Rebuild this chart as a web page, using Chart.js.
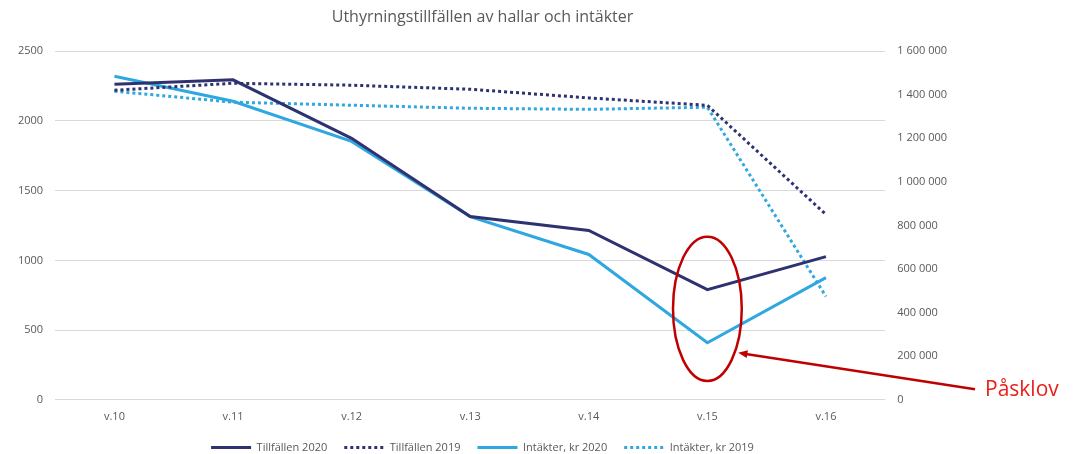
<!DOCTYPE html>
<html>
<head>
<meta charset="utf-8">
<script src="https://cdn.jsdelivr.net/npm/chart.js@4.4.1/dist/chart.umd.min.js"></script>
<style>
	html, body { margin: 0; padding: 0; background: #fff; }
	#wrap { width: 1087px; height: 454px; position: relative; }
</style>
</head>
<body>
<div id="wrap"><canvas id="hallar"></canvas></div>
<script>
const weeks = ['v.10', 'v.11', 'v.12', 'v.13', 'v.14', 'v.15', 'v.16'];
const tillfallen2020 = [2263, 2295, 1875, 1315, 1214, 790, 1027];
const tillfallen2019 = [2220, 2270, 2256, 2227, 2165, 2112, 1329];
const intakter2020 = [1485000, 1370000, 1186000, 841000, 667000, 262000, 561000];
const intakter2019 = [1416000, 1366000, 1352000, 1338000, 1333000, 1343000, 474000];
const leftTicks = [0, 500, 1000, 1500, 2000, 2500];
const rightTicks = [0, 200000, 400000, 600000, 800000, 1000000, 1200000, 1400000, 1600000];

const navy = '#2e3270';
const blue = '#2fa7e0';
const grey = '#595959';
const red = '#c00000';

// Påsklov ring + arrow, placed from the scales
const paskPlugin = {
	id: 'pasklov',
	afterDatasetsDraw(chart) {
		const ctx = chart.ctx;
		const x = chart.scales.x;
		const y = chart.scales.y;
		const step = x.getPixelForValue(1) - x.getPixelForValue(0);
		const cx = x.getPixelForValue(5);
		const top = y.getPixelForValue(1170);
		const bot = y.getPixelForValue(135);
		ctx.save();
		ctx.strokeStyle = red;
		ctx.lineWidth = 2.5;
		ctx.beginPath();
		ctx.ellipse(cx, (top + bot) / 2, step * 0.29, (bot - top) / 2, 0, 0, Math.PI * 2);
		ctx.stroke();

		const tipX = cx + step * 0.26;
		const tipY = y.getPixelForValue(338);
		const tailX = chart.width - 112;
		const tailY = y.getPixelForValue(75);
		ctx.lineWidth = 2.5;
		ctx.beginPath();
		ctx.moveTo(tailX, tailY);
		ctx.lineTo(tipX + 6, tipY + 1);
		ctx.stroke();
		const ang = Math.atan2(tipY - tailY, tipX - tailX);
		ctx.fillStyle = red;
		ctx.beginPath();
		ctx.moveTo(tipX, tipY);
		ctx.lineTo(tipX - 10 * Math.cos(ang - 0.4), tipY - 10 * Math.sin(ang - 0.4));
		ctx.lineTo(tipX - 10 * Math.cos(ang + 0.4), tipY - 10 * Math.sin(ang + 0.4));
		ctx.closePath();
		ctx.fill();

		ctx.fillStyle = '#e8201c';
		ctx.font = '21px "Open Sans", sans-serif';
		ctx.textBaseline = 'middle';
		ctx.fillText('Påsklov', tailX + 10, tailY + 1);
		ctx.restore();
	}
};

const fmt = v => String(v).replace(/\B(?=(\d{3})+(?!\d))/g, ' ');

Chart.defaults.font.family = '"Open Sans", sans-serif';
Chart.defaults.color = grey;

const ctx = document.getElementById('hallar').getContext('2d');
const myChart = new Chart(ctx, {
	type: 'line',
	data: {
		labels: weeks,
		datasets: [
			{ label: 'Tillfällen 2020', data: tillfallen2020, borderColor: navy, backgroundColor: navy, borderWidth: 3, yAxisID: 'y' },
			{ label: 'Tillfällen 2019', data: tillfallen2019, borderColor: navy, backgroundColor: navy, borderWidth: 3, borderDash: [3, 3], yAxisID: 'y' },
			{ label: 'Intäkter, kr 2020', data: intakter2020, borderColor: blue, backgroundColor: blue, borderWidth: 3, yAxisID: 'y1' },
			{ label: 'Intäkter, kr 2019', data: intakter2019, borderColor: blue, backgroundColor: blue, borderWidth: 3, borderDash: [3, 3], yAxisID: 'y1' }
		]
	},
	options: {
		responsive: true,
		maintainAspectRatio: false,
		animation: false,
		elements: { point: { radius: 0 }, line: { tension: 0 } },
		layout: { padding: { left: 6, right: 128, top: 4, bottom: -9 } },
		plugins: {
			title: {
				display: true,
				text: 'Uthyrningstillfällen av hallar och intäkter',
				color: grey,
				font: { size: 16, weight: 'normal' },
				padding: { top: 4, bottom: 24 }
			},
			legend: {
				position: 'bottom',
				labels: {
					usePointStyle: true,
					pointStyleWidth: 40,
					boxHeight: 3,
					padding: 17,
					font: { size: 11 },
					generateLabels(chart) {
						return chart.data.datasets.map((ds, i) => ({
							text: ds.label,
							datasetIndex: i,
							pointStyle: 'line',
							strokeStyle: ds.borderColor,
							fillStyle: ds.borderColor,
							lineWidth: 3,
							lineDash: ds.borderDash || [],
							fontColor: grey
						}));
					}
				}
			},
			tooltip: { enabled: false }
		},
		scales: {
			x: {
				offset: true,
				grid: { display: false },
				border: { display: false },
				ticks: { font: { size: 11 }, padding: 2 }
			},
			y: {
				position: 'left',
				min: 0,
				max: 2500,
				afterBuildTicks(axis) { axis.ticks = leftTicks.map(v => ({ value: v })); },
				grid: { color: '#d9d9d9', drawTicks: false },
				border: { display: false },
				ticks: { font: { size: 11 }, padding: 12, callback: v => String(v) }
			},
			y1: {
				position: 'right',
				min: 0,
				max: 1600000,
				afterBuildTicks(axis) { axis.ticks = rightTicks.map(v => ({ value: v })); },
				grid: { display: false, drawTicks: false },
				border: { display: false },
				ticks: { font: { size: 11 }, padding: 12, callback: v => fmt(v) }
			}
		}
	},
	plugins: [paskPlugin]
});
</script>
</body>
</html>
